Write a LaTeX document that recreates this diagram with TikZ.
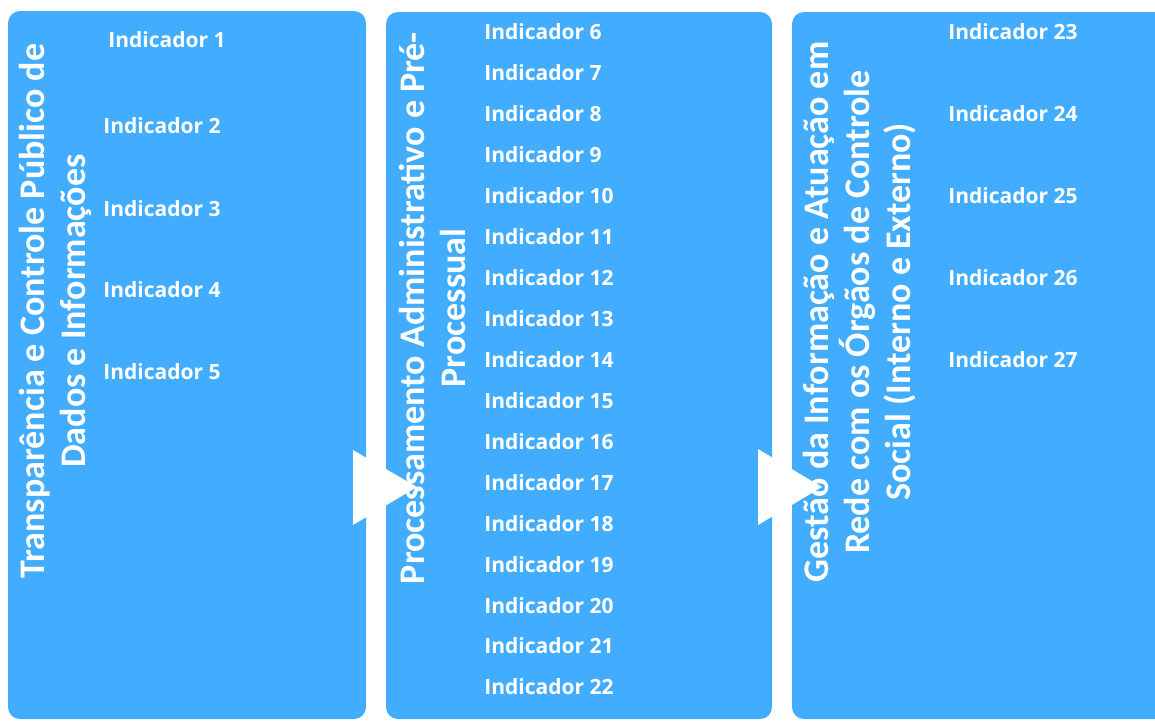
\documentclass[tikz,border=0pt]{standalone}
\usepackage{fontspec}
\setmainfont{Open Sans}
\newfontfamily\titrefont{Carlito}
\definecolor{bleu}{RGB}{66,172,255}

\begin{document}
\begin{tikzpicture}[x=0.5pt,y=-0.5pt, % coordonnées en pixels, y vers le bas
  bloc/.style={fill=bleu,rounded corners=6pt},
  titre/.style={rotate=90,align=center,text=white,inner sep=0pt,font=\titrefont\bfseries\fontsize{18}{20.5}\selectfont},
  ind/.style={anchor=west,text=white,inner sep=0pt,font=\bfseries\fontsize{10.5}{12}\selectfont},
  fleche/.style={fill=white}]

\useasboundingbox (0,0) rectangle (1155,720);
\clip (0,0) rectangle (1155,720);

\fill[bloc] (8,11) rectangle (366,719);
\fill[bloc] (386,12) rectangle (772,719);
\fill[bloc] (792,12) rectangle (1175,719);

\node[titre] (T1) at (55,311) {Transparência e Controle Público de\\Dados e Informações};
\node[titre] (T2) at (432,308) {Processamento Administrativo e Pré-\\Processual};
\node[titre] (T3) at (860,312) {Gestão da Informação e Atuação em\\Rede com os Órgãos de Controle\\Social (Interno e Externo)};

\node[ind] (I1) at (108,40) {Indicador 1};
\foreach \i/\y in {2/126,3/209,4/290,5/372}
  \node[ind] (I\i) at (103,\y) {Indicador \i};
\foreach \i [count=\k from 0] in {6,...,22}
  \node[ind] (I\i) at (484,32+40.94*\k) {Indicador \i};
\foreach \i [count=\k from 0] in {23,...,27}
  \node[ind] (I\i) at (948,32+82*\k) {Indicador \i};

\fill[fleche] (353,450) -- (417,487) -- (353,525) -- cycle;
\fill[fleche] (758,449) -- (822,487) -- (758,525) -- cycle;
\end{tikzpicture}
\end{document}
